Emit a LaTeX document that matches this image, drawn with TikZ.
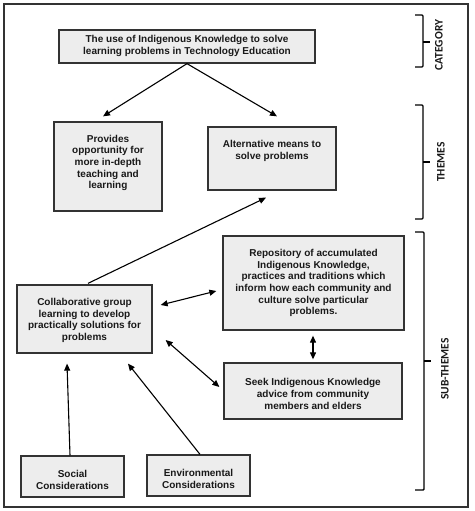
\documentclass[tikz,border=0pt]{standalone}
\usepackage{fontspec}
\setmainfont{Liberation Sans}
\newfontfamily\labfont{Carlito}
\usetikzlibrary{arrows.meta,calc}
\begin{document}
\begin{tikzpicture}[x=1pt,y=-1pt,
  box/.style={draw=black!80, line width=1.3pt, fill=black!7, inner sep=0pt},
  txt/.style={font=\fontsize{10}{11.7}\selectfont\bfseries, align=center, text=black!90, inner sep=0pt},
  arr/.style={line width=1.1pt, -{Triangle[length=7pt,width=6pt]}},
  darr/.style={line width=1.1pt, {Triangle[length=7pt,width=6pt]}-{Triangle[length=7pt,width=6pt]}},
  brk/.style={line width=1.4pt, rounded corners=1pt},
  lab/.style={font=\labfont\fontsize{11.5}{12}\selectfont\bfseries, rotate=90, inner sep=0pt, text=black!90}
]
\useasboundingbox (0,0) rectangle (474,511);
\node[draw=black!80, line width=1.4pt, minimum width=464pt, minimum height=503pt, inner sep=0pt] (frame) at (236,255.5) {};

% boxes
\node[box, minimum width=256pt, minimum height=33pt] (top) at (187,46.5) {};
\node[box, minimum width=108pt, minimum height=89pt] (prov) at (108,166.5) {};
\node[box, minimum width=128pt, minimum height=63pt] (alt) at (272,158.5) {};
\node[box, minimum width=181pt, minimum height=94pt] (repo) at (313.5,283) {};
\node[box, minimum width=135pt, minimum height=68pt] (collab) at (84.5,319) {};
\node[box, minimum width=178pt, minimum height=56pt] (seek) at (313,391) {};
\node[box, minimum width=103pt, minimum height=41pt] (social) at (72.5,476.5) {};
\node[box, minimum width=103pt, minimum height=41pt] (env) at (198.5,475.5) {};

% texts
\node[txt] (topT) at (187,46) {The use of Indigenous Knowledge to solve\\learning problems in Technology Education};
\node[txt] (provT) at (108,163) {Provides\\opportunity for\\more in-depth\\teaching and\\learning};
\node[txt] (altT) at (272,151) {Alternative means to\\solve problems};
\node[txt] (repoT) at (313.5,283) {Repository of accumulated\\Indigenous Knowledge,\\practices and traditions which\\inform how each community and\\culture solve particular\\problems.};
\node[txt] (collabT) at (84.5,320.5) {Collaborative group\\learning to develop\\practically solutions for\\problems};
\node[txt] (seekT) at (313,394) {Seek Indigenous Knowledge\\advice from community\\members and elders};
\node[txt] (socialT) at (72.5,480) {Social\\Considerations};
\node[txt] (envT) at (198.5,479) {Environmental\\Considerations};

% connectors
\draw[arr] (top.south) -- ($(prov.north)+(-5,-5)$);
\draw[arr] (top.south) -- ($(alt.north)+(5,-10)$);
\draw[arr] ($(collab.north)+(3.5,-1)$) -- ($(alt.south)+(-6,7)$);
\draw[darr] ($(collab.east)+(8,-14)$) -- ($(repo.west)+(-6,8)$);
\draw[darr] ($(repo.south)+(-0.5,5)$) -- ($(seek.north)+(0,-3)$);
\draw[darr] ($(collab.east)+(13,21)$) -- ($(seek.west)+(-4,-4)$);
\draw[arr] ($(social.north)+(-2.5,0)$) -- ($(collab.south)+(-17.5,10)$);
\draw[arr] ($(env.north)+(1.5,0)$) -- ($(collab.south)+(43.5,10)$);

% brackets
\draw[brk] (415,15) -- (423,15) -- (423,67) -- (415,67);
\draw[brk] (423,42) -- (430,42);
\draw[brk] (415,105) -- (423,105) -- (423,219) -- (415,219);
\draw[brk] (423,162) -- (430,162);
\draw[brk] (415,232) -- (424,232) -- (424,490) -- (415,490);
\draw[brk] (424,361) -- (431,361);

\node[lab] (cat) at (439,45) {CATEGORY};
\node[lab] (themes) at (441,162) {THEMES};
\node[lab] (sub) at (445,369) {SUB-THEMES};
\end{tikzpicture}
\end{document}
